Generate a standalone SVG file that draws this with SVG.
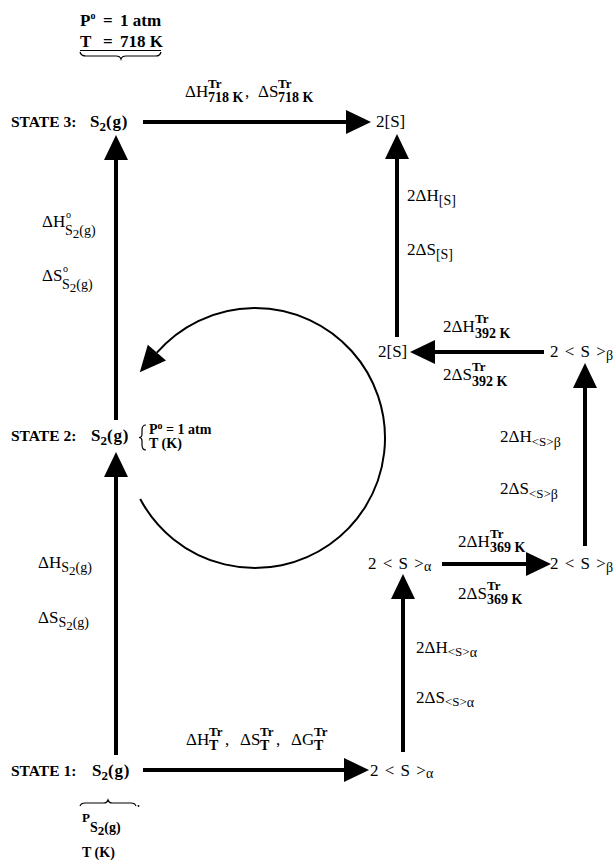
<svg xmlns="http://www.w3.org/2000/svg" width="615" height="862" viewBox="0 0 615 862">
<defs>
<style>
text{font-family:"Liberation Serif","Times New Roman",serif;fill:#000}
.t{font-size:17px}
.st{font-size:15.5px;font-weight:bold}
.b{font-weight:bold}
.s{font-size:13px}
.s13{font-size:14px}
.sup{font-size:10px}
.ln{stroke:#000;stroke-width:4;fill:none;marker-end:url(#ah)}
.thin{stroke:#000;stroke-width:1.2;fill:none}
.circ{stroke:#000;stroke-width:2;fill:none}
.node{word-spacing:2px}
</style>
<marker id="ah" markerUnits="userSpaceOnUse" markerWidth="26" markerHeight="24" refX="4" refY="12" orient="auto" overflow="visible">
<path d="M0,0 L25,12 L0,24 Z" fill="#000"/>
</marker>
</defs>
<rect width="615" height="862" fill="#fff"/>

<g id="connectors">
<line class="ln" x1="143" y1="122" x2="350" y2="122"/>
<line class="ln" x1="397" y1="337" x2="397" y2="155"/>
<line class="ln" x1="544" y1="352" x2="431" y2="352"/>
<line class="ln" x1="585" y1="546" x2="585" y2="384"/>
<line class="ln" x1="442" y1="564" x2="530" y2="564"/>
<line class="ln" x1="403" y1="752" x2="403" y2="595"/>
<line class="ln" x1="143" y1="770" x2="348" y2="770"/>
<line class="ln" x1="116" y1="420" x2="116" y2="156"/>
<line class="ln" x1="116" y1="755" x2="116" y2="473"/>
<path class="circ" d="M140.2,499 A130,130 0 1 0 156.9,352.7"/>
<polygon points="139.8,372.3 166,360.6 147.8,344.8" fill="#000"/>
</g>

<g id="cond3">
<text class="t b" y="26" font-size="16px"><tspan x="80">P</tspan><tspan class="sup" dy="-7">o</tspan><tspan x="103" dy="7">=</tspan><tspan x="120">1 atm</tspan></text>
<text class="t b" y="47" font-size="16px"><tspan x="80">T</tspan><tspan x="103">=</tspan><tspan x="120">718 K</tspan></text>
<line class="thin" x1="80" y1="50.5" x2="161" y2="50.5"/>
<path class="thin" d="M80,52 Q81,56 86,56 L116,56 Q120,56 121,59 Q122,56 126,56 L156,56 Q160,56 161,52"/>
</g>

<g id="state3">
<text class="st" x="11" y="127">STATE 3:<tspan x="90" font-size="17px">S</tspan><tspan class="s" dy="4">2</tspan><tspan dy="-4" font-size="17px" letter-spacing="0.8">(g)</tspan></text>
</g>

<g id="lbl-718">
<text class="t" x="185" y="97">ΔH</text>
<text class="s b" x="208" y="88">Tr</text>
<text class="s13 b" x="208" y="102">718 K</text>
<text class="t" x="245" y="97">,</text>
<text class="t" x="258" y="97">ΔS</text>
<text class="s b" x="278" y="88">Tr</text>
<text class="s13 b" x="278" y="102">718 K</text>
</g>

<g id="S-liq-top">
<text class="t" x="376" y="127">2[S]</text>
</g>

<g id="lbl-liq">
<text class="t" x="407" y="201">2ΔH<tspan class="s13" dy="4">[S]</tspan></text>
<text class="t" x="407" y="255">2ΔS<tspan class="s13" dy="4">[S]</tspan></text>
</g>

<g id="S-liq-392">
<text class="t" x="378" y="357">2[S]</text>
</g>

<g id="lbl-392">
<text class="t" x="443" y="332">2ΔH</text>
<text class="s b" x="475" y="323">Tr</text>
<text class="s13 b" x="475" y="338">392 K</text>
<text class="t" x="443" y="380">2ΔS</text>
<text class="s b" x="472" y="371">Tr</text>
<text class="s13 b" x="472" y="386">392 K</text>
</g>

<g id="S-beta-392">
<text class="t node" x="550" y="357">2 &lt; S &gt;<tspan class="s13" dy="3">β</tspan></text>
</g>

<g id="lbl-beta">
<text class="t" x="500" y="442">2ΔH<tspan class="s" dy="4">&lt;S&gt;</tspan><tspan class="s13" dy="1">β</tspan></text>
<text class="t" x="500" y="494">2ΔS<tspan class="s" dy="4">&lt;S&gt;</tspan><tspan class="s13" dy="1">β</tspan></text>
</g>

<g id="S-alpha-369">
<text class="t node" x="368" y="569">2 &lt; S &gt;<tspan class="s13" dy="2">α</tspan></text>
</g>

<g id="S-beta-369">
<text class="t node" x="550" y="569">2 &lt; S &gt;<tspan class="s13" dy="3">β</tspan></text>
</g>

<g id="lbl-369">
<text class="t" x="458" y="547">2ΔH</text>
<text class="s b" x="490" y="538">Tr</text>
<text class="s13 b" x="490" y="552">369 K</text>
<text class="t" x="458" y="599">2ΔS</text>
<text class="s b" x="487" y="590">Tr</text>
<text class="s13 b" x="487" y="604">369 K</text>
</g>

<g id="lbl-alpha">
<text class="t" x="416" y="653">2ΔH<tspan class="s" dy="3">&lt;S&gt;</tspan><tspan class="s13" dy="1">α</tspan></text>
<text class="t" x="416" y="703">2ΔS<tspan class="s" dy="3">&lt;S&gt;</tspan><tspan class="s13" dy="1">α</tspan></text>
</g>

<g id="state2">
<text class="st" x="11" y="441">STATE 2:<tspan x="91" font-size="17px">S</tspan><tspan class="s" dy="4">2</tspan><tspan dy="-4" font-size="17px" letter-spacing="0.8">(g)</tspan></text>
<path class="thin" d="M146,425 Q142,425 142,430 L142,434 Q142,437.5 139,437.5 Q142,437.5 142,441 L142,445 Q142,450 146,450"/>
<text class="s13 b" x="149" y="434">P<tspan class="sup" dy="-5">o</tspan><tspan dy="5"> = 1 atm</tspan></text>
<text class="s13 b" x="149" y="448">T (K)</text>
</g>

<g id="lbl-std">
<text class="t" x="42" y="227">ΔH</text>
<text class="sup" x="66" y="218">o</text>
<text class="s13" x="65" y="235">S<tspan class="s" dy="3">2</tspan><tspan dy="-3">(g)</tspan></text>
<text class="t" x="42" y="281">ΔS</text>
<text class="sup" x="63" y="272">o</text>
<text class="s13" x="62" y="289">S<tspan class="s" dy="3">2</tspan><tspan dy="-3">(g)</tspan></text>
</g>

<g id="lbl-gas">
<text class="t" x="38" y="568">ΔH<tspan class="s13" dy="4">S</tspan><tspan class="s" dy="3">2</tspan><tspan class="s13" dy="-3">(g)</tspan></text>
<text class="t" x="38" y="623">ΔS<tspan class="s13" dy="4">S</tspan><tspan class="s" dy="3">2</tspan><tspan class="s13" dy="-3">(g)</tspan></text>
</g>

<g id="state1">
<text class="st" x="11" y="776">STATE 1:<tspan x="92" font-size="17px">S</tspan><tspan class="s" dy="4">2</tspan><tspan dy="-4" font-size="17px" letter-spacing="0.8">(g)</tspan></text>
<path class="thin" d="M80,806 Q81,803 85,803 L104,803 Q107,803 108,800 Q109,803 112,803 L131,803 Q135,803 136,806"/>
<circle cx="138.5" cy="806" r="0.9" fill="#000"/>
<text class="s b" x="82" y="822">P</text>
<text class="s13 b" x="90" y="832">S<tspan class="s" dy="3">2</tspan><tspan dy="-3">(g)</tspan></text>
<text class="s13 b" x="82" y="857">T (K)</text>
</g>

<g id="lbl-T">
<text class="t" x="186" y="745">ΔH</text>
<text class="s b" x="209" y="736">Tr</text>
<text class="s13 b" x="209" y="750">T</text>
<text class="t" x="225" y="745">,</text>
<text class="t" x="240" y="745">ΔS</text>
<text class="s b" x="260" y="736">Tr</text>
<text class="s13 b" x="260" y="750">T</text>
<text class="t" x="276" y="745">,</text>
<text class="t" x="291" y="745">ΔG</text>
<text class="s b" x="314" y="736">Tr</text>
<text class="s13 b" x="314" y="750">T</text>
</g>

<g id="S-alpha-1">
<text class="t node" x="370" y="776">2 &lt; S &gt;<tspan class="s13" dy="2">α</tspan></text>
</g>
</svg>
